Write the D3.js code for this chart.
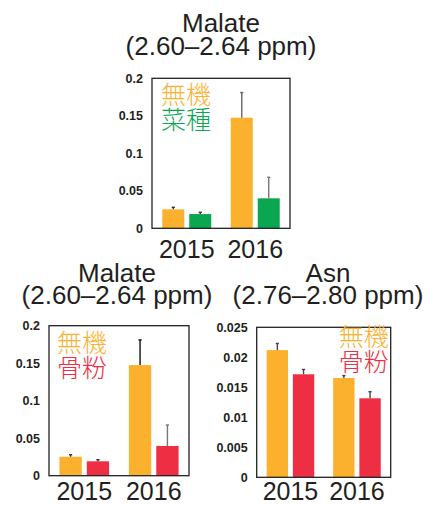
<!DOCTYPE html>
<html>
<head>
<meta charset="utf-8">
<script src="https://cdn.jsdelivr.net/npm/d3@7"></script>
<style>
  body { margin: 0; background: #fff; }
  .title { font-family: "Liberation Sans", Arial, sans-serif; font-size: 26px; fill: #231f20; }
  .yax text { font-family: "Liberation Sans", Arial, sans-serif; font-size: 12.5px; font-weight: bold; fill: #231f20; }
  .xax text { font-family: "Liberation Sans", Arial, sans-serif; font-size: 25px; fill: #231f20; }
  .legend { font-family: "Noto Sans CJK JP", sans-serif; font-size: 25px; font-weight: 300; }
</style>
</head>
<body>
<div class="chart"></div>
<script>
// chart values
const years = ["2015", "2016"];

const malateInorganic = [0.0253, 0.1475];
const malateInorganicSd = [0.0027, 0.0335];
const malateRapeseed = [0.019, 0.040];
const malateRapeseedSd = [0.0023, 0.028];
const malateBoneMeal = [0.0192, 0.0396];
const malateBoneMealSd = [0.0021, 0.028];

const asnInorganic = [0.0212, 0.01655];
const asnInorganicSd = [0.0011, 0.0004];
const asnBoneMeal = [0.01717, 0.01317];
const asnBoneMealSd = [0.0008, 0.0011];

const malateTicks = [0, 0.05, 0.1, 0.15, 0.2];
const asnTicks = [0, 0.005, 0.01, 0.015, 0.02, 0.025];

const ORANGE = "#fbb12e";
const GREEN = "#0aa650";
const RED = "#ee2e42";

const W = 430;
const H = 506;

var svg = d3
  .select(".chart")
  .append("svg")
  .attr("width", W)
  .attr("height", H);

const charts = [
  {
    box: { x: 152, y: 78.3, w: 138, h: 150 },
    title: ["Malate", "(2.60–2.64 ppm)"], titleX: 221, titleY: [31.7, 55],
    ticks: malateTicks,
    series: [
      { name: "無機", values: malateInorganic, sd: malateInorganicSd, color: ORANGE, err: ["#333", "#666"] },
      { name: "菜種", values: malateRapeseed, sd: malateRapeseedSd, color: GREEN, err: ["#333", "#777"] },
    ],
    legend: { x: 9, y: 26, anchor: "start" },
    xLabelY: 30,
  },
  {
    box: { x: 49, y: 325.7, w: 140, h: 150 },
    title: ["Malate", "(2.60–2.64 ppm)"], titleX: 117, titleY: [282, 303.5],
    ticks: malateTicks,
    series: [
      { name: "無機", values: malateInorganic, sd: malateInorganicSd, color: ORANGE, err: ["#333", "#111"] },
      { name: "骨粉", values: malateBoneMeal, sd: malateBoneMealSd, color: RED, err: ["#333", "#777"] },
    ],
    legend: { x: 8, y: 26, anchor: "start" },
    xLabelY: 24.8,
  },
  {
    box: { x: 256.7, y: 327.3, w: 134, h: 150 },
    title: ["Asn", "(2.76–2.80 ppm)"], titleX: 328, titleY: [282, 303.5],
    ticks: asnTicks,
    series: [
      { name: "無機", values: asnInorganic, sd: asnInorganicSd, color: ORANGE, err: ["#444", "#444"] },
      { name: "骨粉", values: asnBoneMeal, sd: asnBoneMealSd, color: RED, err: ["#444", "#444"] },
    ],
    legend: { x: 132, y: 19, anchor: "end" },
    xLabelY: 23.2,
  },
];

charts.forEach(function (c) {
  var b = c.box;
  var g = svg.append("g").attr("transform", "translate(" + b.x + "," + b.y + ")");

  var x0 = d3.scaleBand().domain(years).range([0, b.w]).paddingInner(0.285).paddingOuter(0.15);
  var x1 = d3.scaleBand().domain(c.series.map((s) => s.name)).range([0, x0.bandwidth()]).paddingInner(0.185);
  var y = d3.scaleLinear().domain([0, d3.max(c.ticks)]).range([b.h, 0]);

  // title
  c.title.forEach(function (t, i) {
    svg.append("text").attr("class", "title")
      .attr("x", c.titleX).attr("y", c.titleY[i])
      .attr("text-anchor", "middle").text(t);
  });

  // bars
  c.series.forEach(function (s) {
    g.selectAll(null)
      .data(years)
      .enter()
      .append("rect")
      .attr("x", (d) => x0(d) + x1(s.name))
      .attr("width", x1.bandwidth())
      .attr("y", (d, i) => y(s.values[i]))
      .attr("height", (d, i) => b.h - y(s.values[i]))
      .attr("fill", s.color);

    // error bars (upper only)
    years.forEach(function (d, i) {
      var cx = x0(d) + x1(s.name) + x1.bandwidth() / 2;
      var top = y(s.values[i] + s.sd[i]);
      g.append("line")
        .attr("x1", cx).attr("x2", cx)
        .attr("y1", y(s.values[i])).attr("y2", top)
        .attr("stroke", s.err[i]).attr("stroke-width", 1.4);
      g.append("line")
        .attr("x1", cx - 1.6).attr("x2", cx + 1.6)
        .attr("y1", top).attr("y2", top)
        .attr("stroke", s.err[i]).attr("stroke-width", 1.4);
    });
  });

  // y axis labels
  g.append("g")
    .attr("class", "yax")
    .call(d3.axisLeft(y).tickValues(c.ticks).tickSize(0).tickPadding(9).tickFormat(d3.format("~g")))
    .call((a) => a.select(".domain").remove());

  // x axis labels
  g.append("g")
    .attr("class", "xax")
    .attr("transform", "translate(0," + b.h + ")")
    .call(d3.axisBottom(x0).tickSize(0).tickPadding(0))
    .call((a) => a.select(".domain").remove())
    .call((a) => a.selectAll(".tick text").attr("dy", null).attr("y", c.xLabelY));

  // frame
  g.append("rect")
    .attr("width", b.w).attr("height", b.h)
    .attr("fill", "none").attr("stroke", "#222").attr("stroke-width", 1.3);

  // legend
  c.series.forEach(function (s, i) {
    g.append("text").attr("class", "legend")
      .attr("x", c.legend.x).attr("y", c.legend.y + i * 25)
      .attr("text-anchor", c.legend.anchor)
      .attr("fill", s.color)
      .text(s.name);
  });
});
</script>
</body>
</html>
